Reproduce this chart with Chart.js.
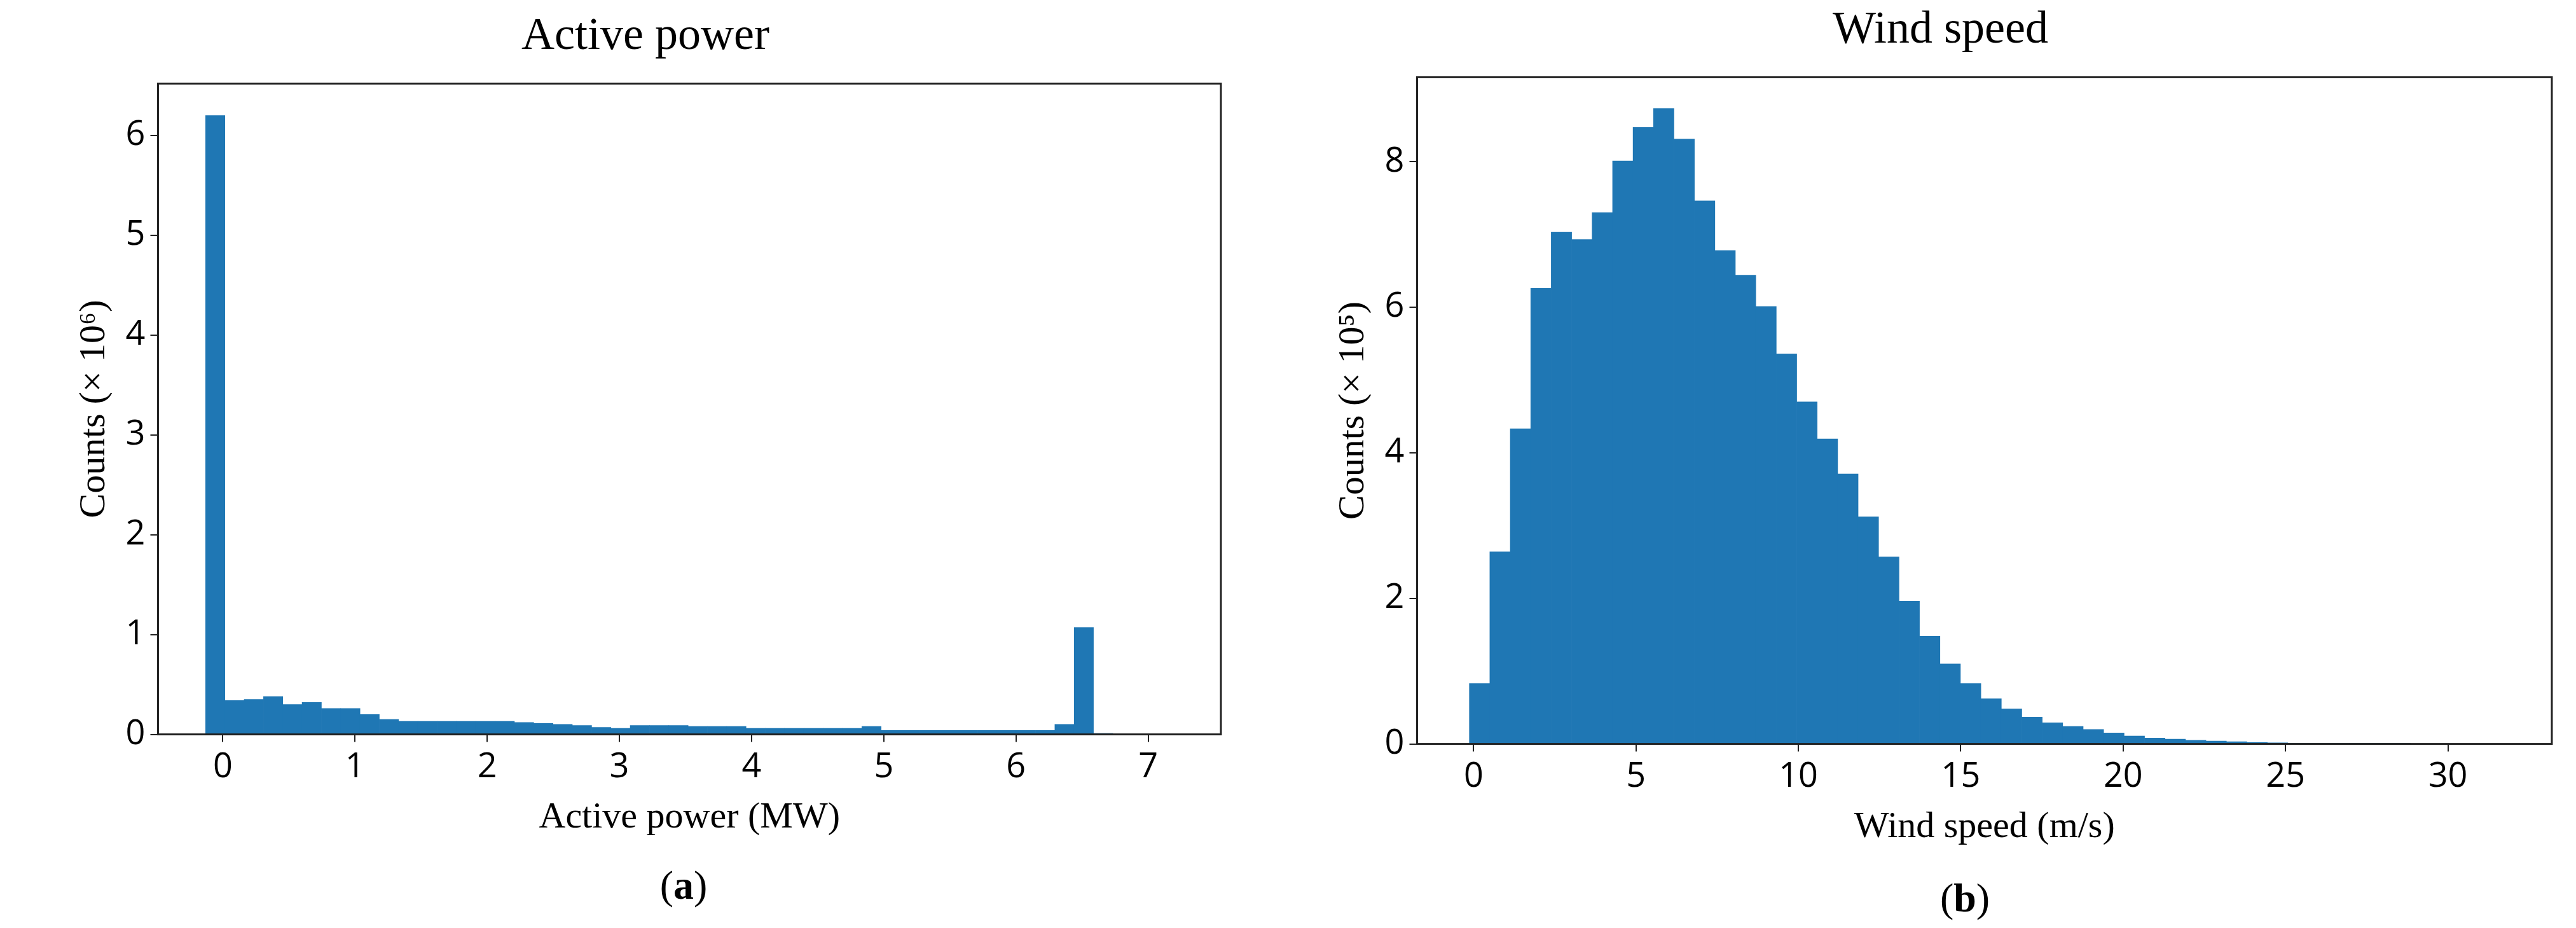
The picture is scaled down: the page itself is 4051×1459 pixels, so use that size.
<!DOCTYPE html>
<html>
<head>
<meta charset="utf-8">
<script src="https://cdn.jsdelivr.net/npm/chart.js@4"></script>
<style>
  body { margin: 0; background: #fff; width: 4051px; height: 1459px; position: relative; overflow: hidden; }
  .panel { position: absolute; top: 0; }
  .cap { position: absolute; font-family: 'Liberation Serif', serif; font-size: 64px; text-align: center; }
</style>
</head>
<body>
<div class="panel" style="left:0;width:2000px;height:1325px"><canvas id="power-chart"></canvas></div>
<div class="panel" style="left:2000px;width:2051px;height:1340px"><canvas id="wind-chart"></canvas></div>
<div class="cap" style="left:0;width:2150px;top:1355px">(<b>a</b>)</div>
<div class="cap" style="left:2040px;width:2100px;top:1375px">(<b>b</b>)</div>
<script>
// active power histogram, counts x 10^6
const powerBinStart = -0.13;
const powerBinWidth = 0.146;
const powerCounts = [6.2, 0.34, 0.35, 0.38, 0.30, 0.32, 0.26, 0.26, 0.20, 0.15,
  0.13, 0.13, 0.13, 0.13, 0.13, 0.13, 0.12, 0.11, 0.10, 0.09, 0.07, 0.06,
  0.09, 0.09, 0.09, 0.08, 0.08, 0.08, 0.06, 0.06, 0.06, 0.06, 0.06, 0.06,
  0.08, 0.04, 0.04, 0.04, 0.04, 0.04, 0.04, 0.04, 0.04, 0.04, 0.10, 1.07, 0.01];
const powerTicksX = [0, 1, 2, 3, 4, 5, 6, 7];
const powerTicksY = [0, 1, 2, 3, 4, 5, 6];

// wind speed histogram, counts x 10^5
const windBinStart = -0.13;
const windBinWidth = 0.63;
const windCounts = [0.83, 2.64, 4.33, 6.26, 7.03, 6.93, 7.30, 8.01, 8.47, 8.73,
  8.31, 7.46, 6.78, 6.44, 6.01, 5.36, 4.70, 4.19, 3.71, 3.12, 2.57, 1.96,
  1.48, 1.10, 0.83, 0.62, 0.48, 0.37, 0.29, 0.24, 0.20, 0.15, 0.11, 0.08,
  0.065, 0.05, 0.04, 0.03, 0.02, 0.015, 0.01, 0.005, 0.003, 0.002, 0.001,
  0.001, 0, 0, 0, 0, 0, 0];
const windTicksX = [0, 5, 10, 15, 20, 25, 30];
const windTicksY = [0, 2, 4, 6, 8];

const frame = {
  id: 'frame',
  afterDraw(chart) {
    const a = chart.chartArea, c = chart.ctx;
    c.save();
    c.strokeStyle = '#222';
    c.lineWidth = 3;
    c.strokeRect(a.left, a.top, a.right - a.left, a.bottom - a.top);
    c.restore();
  }
};

function histPoints(start, width, counts) {
  return counts.map((v, i) => ({ x: start + width * (i + 0.5), y: v }));
}

const tickFont = { family: "'Liberation Sans Narrow', 'Open Sans', sans-serif", size: 54 };
const serif = "'Liberation Serif', serif";

function makeHist(el, opts) {
  return new Chart(el, {
    type: 'bar',
    data: {
      datasets: [{
        data: histPoints(opts.start, opts.width, opts.counts),
        backgroundColor: '#1f77b4',
        borderWidth: 0,
        barPercentage: 1.0,
        categoryPercentage: 1.0
      }]
    },
    options: {
      animation: false,
      responsive: true,
      maintainAspectRatio: false,
      layout: { padding: opts.padding },
      plugins: {
        legend: { display: false },
        tooltip: { enabled: false },
        title: {
          display: true,
          text: opts.title,
          color: '#000',
          font: { family: serif, size: 72, weight: 'normal' },
          padding: { top: 0, bottom: 30 }
        }
      },
      scales: {
        x: {
          type: 'linear',
          offset: false,
          min: opts.xMin,
          max: opts.xMax,
          afterBuildTicks: ax => { ax.ticks = opts.ticksX.map(v => ({ value: v })); },
          ticks: { color: '#000', font: tickFont, maxRotation: 0, padding: 8 },
          grid: { offset: false, drawOnChartArea: false, tickLength: 12, color: '#222', lineWidth: 2 },
          border: { display: false },
          title: { display: true, text: opts.xLabel, color: '#000', font: { family: serif, size: 58 }, padding: { top: 4 } }
        },
        y: {
          min: 0,
          max: opts.yMax,
          afterBuildTicks: ax => { ax.ticks = opts.ticksY.map(v => ({ value: v })); },
          ticks: { color: '#000', font: tickFont, padding: 8 },
          grid: { drawOnChartArea: false, tickLength: 12, color: '#222', lineWidth: 2 },
          border: { display: false },
          title: { display: true, text: opts.yLabel, color: '#000', font: { family: serif, size: 58 }, padding: { bottom: 6 } }
        }
      }
    },
    plugins: [frame]
  });
}

makeHist(document.getElementById('power-chart'), {
  start: powerBinStart, width: powerBinWidth, counts: powerCounts,
  ticksX: powerTicksX, ticksY: powerTicksY,
  xMin: -0.49, xMax: 7.55, yMax: 6.52,
  title: 'Active power', xLabel: 'Active power (MW)', yLabel: 'Counts (× 10⁶)',
  padding: { left: 110, right: 80, top: 15, bottom: 0 }
});

makeHist(document.getElementById('wind-chart'), {
  start: windBinStart, width: windBinWidth, counts: windCounts,
  ticksX: windTicksX, ticksY: windTicksY,
  xMin: -1.74, xMax: 33.2, yMax: 9.16,
  title: 'Wind speed', xLabel: 'Wind speed (m/s)', yLabel: 'Counts (× 10⁵)',
  padding: { left: 90, right: 38, top: 5, bottom: 0 }
});
</script>
</body>
</html>
